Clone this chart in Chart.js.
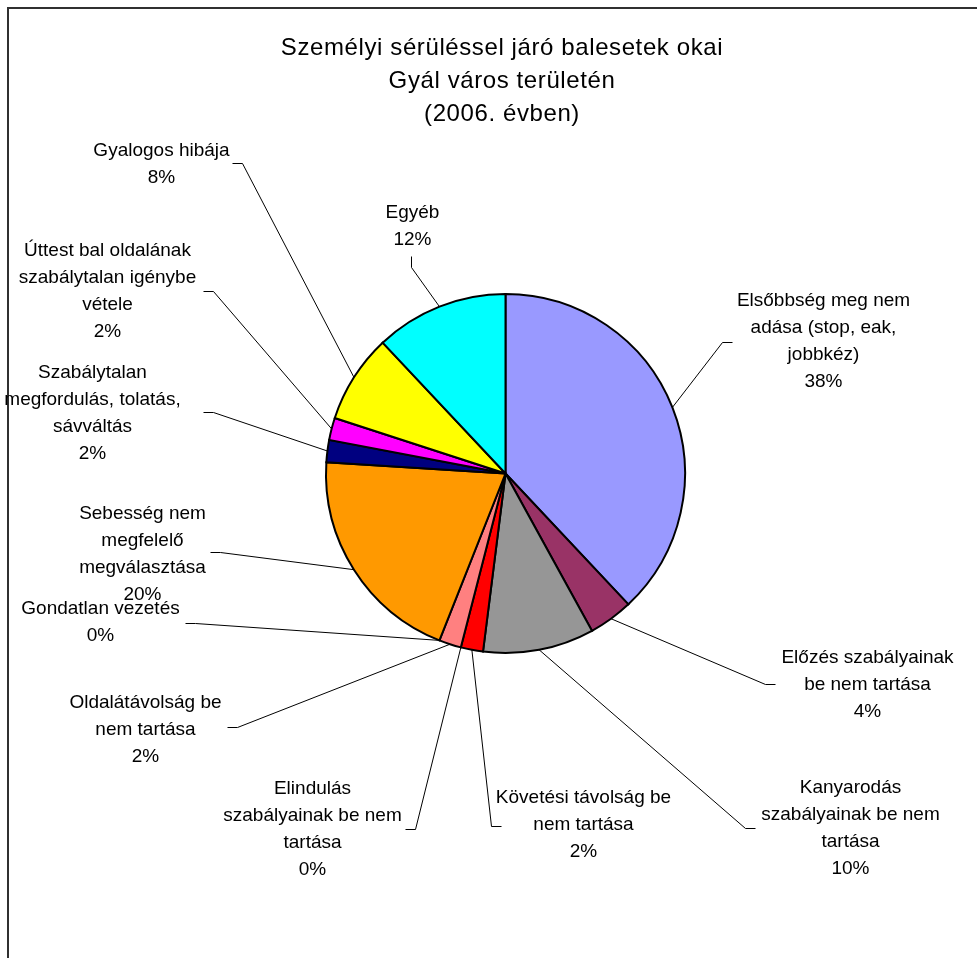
<!DOCTYPE html>
<html>
<head>
<meta charset="utf-8">
<script src="https://cdn.jsdelivr.net/npm/chart.js@4/dist/chart.umd.min.js"></script>
<style>
  html, body { margin: 0; padding: 0; background: #fff; }
  #wrap { width: 977px; height: 958px; position: relative; }
</style>
</head>
<body>
<div id="wrap"><canvas id="pie" width="977" height="958"></canvas></div>
<script>
// data
const titleLines = ["Személyi sérüléssel járó balesetek okai", "Gyál város területén", "(2006. évben)"];
const categories = [
  ["Elsőbbség meg nem", "adása (stop, eak,", "jobbkéz)"],
  ["Előzés szabályainak", "be nem tartása"],
  ["Kanyarodás", "szabályainak be nem", "tartása"],
  ["Követési távolság be", "nem tartása"],
  ["Elindulás", "szabályainak be nem", "tartása"],
  ["Oldalátávolság be", "nem tartása"],
  ["Gondatlan vezetés"],
  ["Sebesség nem", "megfelelő", "megválasztása"],
  ["Szabálytalan", "megfordulás, tolatás,", "sávváltás"],
  ["Úttest bal oldalának", "szabálytalan igénybe", "vétele"],
  ["Gyalogos hibája"],
  ["Egyéb"]
];
const accidents = [19, 2, 5, 1, 0, 1, 0, 10, 1, 1, 4, 6];
const sliceColors = ["#9999FF", "#993366", "#969696", "#FF0000", "#FFFFCC", "#FF8080",
  "#0066CC", "#FF9900", "#000080", "#FF00FF", "#FFFF00", "#00FFFF"];

// label placement, offsets from pie centre: text centre x / first line y, elbow, stub end
const labelSpots = [
  { tx: 318, ty: -173, ex: 217, ey: -131, sx: 227, sy: -131 },
  { tx: 362, ty: 184, ex: 260, ey: 211, sx: 270, sy: 211 },
  { tx: 345, ty: 314, ex: 240, ey: 355, sx: 250, sy: 355 },
  { tx: 78, ty: 324, ex: -14, ey: 353, sx: -4, sy: 353 },
  { tx: -193, ty: 315, ex: -90, ey: 356, sx: -100, sy: 356 },
  { tx: -360, ty: 229, ex: -268, ey: 254, sx: -278, sy: 254 },
  { tx: -405, ty: 135, ex: -310, ey: 150, sx: -320, sy: 150 },
  { tx: -363, ty: 40, ex: -285, ey: 79, sx: -295, sy: 79 },
  { tx: -413, ty: -101, ex: -292, ey: -61, sx: -302, sy: -61 },
  { tx: -398, ty: -223, ex: -292, ey: -182, sx: -302, sy: -182 },
  { tx: -344, ty: -323, ex: -263, ey: -310, sx: -273, sy: -310 },
  { tx: -93, ty: -261, ex: -94, ey: -206, sx: -94, sy: -217 }
];

const total = accidents.reduce((a, b) => a + b, 0);

const pieLabels = {
  id: "pieLabels",
  beforeDraw(chart) {
    const ctx = chart.ctx;
    ctx.save();
    ctx.fillStyle = "#fff";
    ctx.fillRect(0, 0, chart.width, chart.height);
    // frame
    ctx.strokeStyle = "#303030";
    ctx.lineWidth = 2;
    ctx.beginPath();
    ctx.moveTo(8, chart.height);
    ctx.lineTo(8, 8);
    ctx.lineTo(chart.width, 8);
    ctx.stroke();
    // title
    ctx.fillStyle = "#000";
    ctx.font = "24px 'Liberation Sans', Arial, sans-serif";
    ctx.letterSpacing = "0.6px";
    ctx.textAlign = "center";
    ctx.textBaseline = "middle";
    titleLines.forEach((t, i) => ctx.fillText(t, 502, 48 + i * 33));
    ctx.restore();
  },
  afterDatasetsDraw(chart) {
    const ctx = chart.ctx;
    const arcs = chart.getDatasetMeta(0).data;
    ctx.save();
    ctx.font = "19px 'Liberation Sans', Arial, sans-serif";
    ctx.textAlign = "center";
    ctx.textBaseline = "middle";
    ctx.fillStyle = "#000";
    ctx.strokeStyle = "#000";
    ctx.lineWidth = 1;
    arcs.forEach((arc, i) => {
      const p = arc.getProps(["x", "y", "startAngle", "endAngle", "outerRadius"], true);
      const mid = (p.startAngle + p.endAngle) / 2;
      const s = labelSpots[i];
      ctx.beginPath();
      ctx.moveTo(p.x + Math.cos(mid) * p.outerRadius, p.y + Math.sin(mid) * p.outerRadius);
      ctx.lineTo(p.x + s.ex, p.y + s.ey);
      ctx.lineTo(p.x + s.sx, p.y + s.sy);
      ctx.stroke();
      const lines = categories[i].concat([Math.round(accidents[i] / total * 100) + "%"]);
      lines.forEach((t, j) => ctx.fillText(t, p.x + s.tx, p.y + s.ty + j * 27));
    });
    ctx.restore();
  }
};

new Chart(document.getElementById("pie"), {
  type: "pie",
  data: {
    labels: categories.map(c => c.join(" ")),
    datasets: [{
      data: accidents,
      backgroundColor: sliceColors,
      borderColor: "#000",
      borderWidth: 2,
      hoverBorderWidth: 2,
      borderJoinStyle: "miter"
    }]
  },
  options: {
    responsive: false,
    animation: false,
    layout: { padding: { left: 325, right: 291, top: 293, bottom: 304 } },
    plugins: { legend: { display: false }, tooltip: { enabled: false } }
  },
  plugins: [pieLabels]
});
</script>
</body>
</html>
